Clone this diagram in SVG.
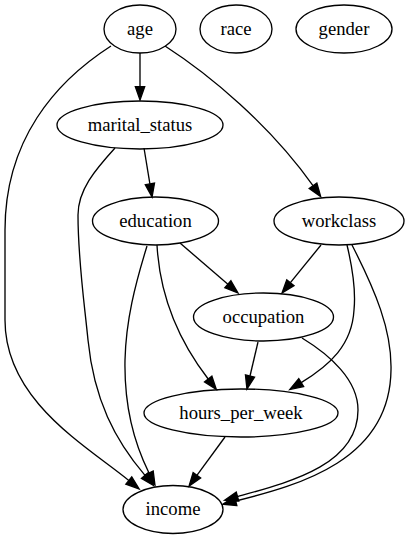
<svg xmlns="http://www.w3.org/2000/svg" width="408" height="539" viewBox="0 0 408 539">
<style>
.n ellipse{fill:none;stroke:#000;stroke-width:1.33}
.n text{font-family:'Liberation Serif','Times New Roman',serif;font-size:18.67px;text-anchor:middle;fill:#000}
#edges path{fill:none;stroke:#000;stroke-width:1.33;marker-end:url(#ah)}
</style>
<defs>
<marker id="ah" markerUnits="userSpaceOnUse" markerWidth="16" markerHeight="12" viewBox="0 -6 16 12" refX="0" refY="0" orient="auto" overflow="visible">
<path d="M0,-4.67 L13.3,0 L0,4.67 Z" fill="#000" stroke="#000" stroke-width="1.33"/>
</marker>
</defs>
<rect width="408" height="539" fill="#fff"/>
<g id="edges">
<path d="M140,53 L140,86.7"/>
<path d="M111,46 C55,82 5,140 5,230 L5,320 C5,400 85,445 128.8,480.5"/>
<path d="M165,46 C210,75 270,125 313,185.7"/>
<path d="M144,148 L149.9,183.9"/>
<path d="M115,148 C95,170 78,190 78,215 C78,260 84,300 88,340 C94,400 115,440 145,475.4"/>
<path d="M180,243 L227.9,284.3"/>
<path d="M147,246 C135,285 126,320 125,360 C124,410 135,445 149,473"/>
<path d="M157,245 C160,300 182,345 208.2,379"/>
<path d="M321,245 L290.4,282.7"/>
<path d="M347,245 C353,270 356,290 354,310 C352,345 330,365 301.2,382.6"/>
<path d="M352,245 C375,290 392,330 391,370 C390,460 300,485 235.7,501"/>
<path d="M258,342 L250,376"/>
<path d="M302,338 C330,355 358,380 358,410 C358,465 290,482 237.5,496.6"/>
<path d="M225,437 L196.9,475.3"/>
</g>
<g id="age" class="n"><ellipse cx="140" cy="29" rx="36" ry="24"/><text x="140" y="34.5">age</text></g>
<g id="race" class="n"><ellipse cx="236" cy="29" rx="36" ry="24"/><text x="236" y="34.5">race</text></g>
<g id="gender" class="n"><ellipse cx="344" cy="29" rx="48" ry="24"/><text x="344" y="34.5">gender</text></g>
<g id="marital_status" class="n"><ellipse cx="140" cy="125" rx="83" ry="24"/><text x="140" y="130.5">marital_status</text></g>
<g id="education" class="n"><ellipse cx="155.5" cy="221" rx="63" ry="24"/><text x="155.5" y="226.5">education</text></g>
<g id="workclass" class="n"><ellipse cx="339" cy="221" rx="65" ry="24"/><text x="339" y="226.5">workclass</text></g>
<g id="occupation" class="n"><ellipse cx="263.5" cy="317" rx="70" ry="24"/><text x="263.5" y="322.5">occupation</text></g>
<g id="hours_per_week" class="n"><ellipse cx="241" cy="413" rx="97" ry="24"/><text x="241" y="418.5">hours_per_week</text></g>
<g id="income" class="n"><ellipse cx="173" cy="509.5" rx="50" ry="24"/><text x="173" y="515">income</text></g>
</svg>
